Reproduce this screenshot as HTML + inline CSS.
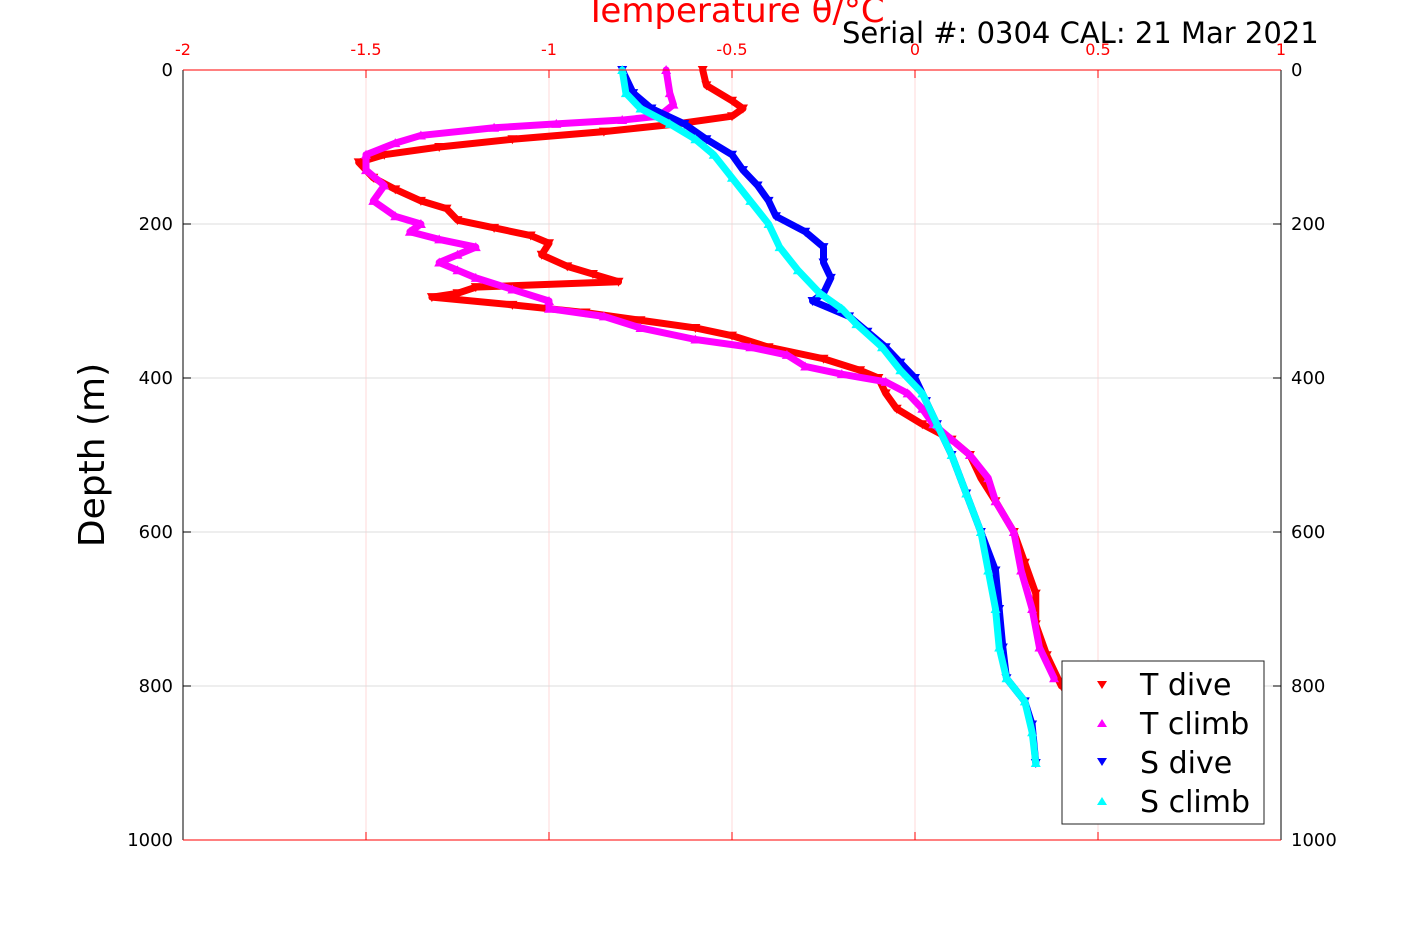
<!DOCTYPE html>
<html><head><meta charset="utf-8"><style>
body{margin:0;background:#fff}
svg text{font-family:"DejaVu Sans","Liberation Sans",sans-serif}
</style></head><body>
<svg id="chart" width="1417" height="945" viewBox="0 0 1417 945">
<g id="grid"></g>
<g id="series"></g>
<g id="axes"></g>
<text x="735" y="22" text-anchor="middle" font-size="34" fill="#ff0000">Temperature θ/°C</text>
<text x="842" y="43" font-size="29" fill="#000">Serial #: 0304  CAL: 21 Mar 2021</text>
<text transform="translate(104,455) rotate(-90)" text-anchor="middle" font-size="36" fill="#000">Depth (m)</text>
<g>
<rect x="1062" y="661" width="202" height="163" fill="#fff" stroke="#222" stroke-width="1"/>
<polygon points="1097,681 1107,681 1102,689" fill="#ff0000"/>
<text x="1140" y="695" font-size="30">T dive</text>
<polygon points="1097,727 1107,727 1102,719" fill="#ff00ff"/>
<text x="1140" y="734" font-size="30">T climb</text>
<polygon points="1097,758 1107,758 1102,766" fill="#0000ff"/>
<text x="1140" y="773" font-size="30">S dive</text>
<polygon points="1097,805 1107,805 1102,797" fill="#00ffff"/>
<text x="1140" y="812" font-size="30">S climb</text>
</g>
</svg>
<script>
const xTicks=[-2,-1.5,-1,-0.5,0,0.5,1];
const xTickLabels=["-2","-1.5","-1","-0.5","0","0.5","1"];
const yTicks=[0,200,400,600,800,1000];
const tDiveDepth=[0,20,40,50,60,70,80,90,100,110,120,140,155,170,180,195,205,215,225,240,255,265,275,282,290,295,305,315,325,335,345,360,375,390,400,420,440,460,480,500,530,560,600,640,680,720,760,800];
const tDiveVal=[-0.58,-0.57,-0.5,-0.47,-0.5,-0.65,-0.85,-1.1,-1.3,-1.45,-1.52,-1.48,-1.42,-1.35,-1.28,-1.25,-1.15,-1.05,-1.0,-1.02,-0.95,-0.88,-0.81,-1.2,-1.25,-1.32,-1.1,-0.9,-0.75,-0.6,-0.5,-0.4,-0.25,-0.15,-0.1,-0.08,-0.05,0.02,0.1,0.15,0.18,0.22,0.27,0.3,0.33,0.33,0.36,0.4];
const tClimbDepth=[0,30,45,60,65,70,75,85,95,110,130,150,170,190,200,210,220,230,240,250,260,270,285,300,310,320,335,350,360,370,385,395,405,420,440,460,480,500,530,560,600,650,700,750,790];
const tClimbVal=[-0.68,-0.67,-0.66,-0.7,-0.8,-0.98,-1.15,-1.35,-1.42,-1.5,-1.5,-1.45,-1.48,-1.42,-1.35,-1.38,-1.3,-1.2,-1.25,-1.3,-1.25,-1.2,-1.1,-1.0,-1.0,-0.85,-0.75,-0.6,-0.45,-0.35,-0.3,-0.2,-0.08,-0.02,0.02,0.05,0.1,0.15,0.2,0.22,0.27,0.29,0.32,0.34,0.38];
const sDiveDepth=[0,30,50,70,90,110,130,150,170,190,210,230,250,270,290,300,320,340,360,380,400,430,460,500,550,600,650,700,750,790,820,850,900];
const sDiveVal=[-0.8,-0.77,-0.72,-0.63,-0.57,-0.5,-0.47,-0.43,-0.4,-0.38,-0.3,-0.25,-0.25,-0.23,-0.25,-0.28,-0.18,-0.13,-0.08,-0.04,0.0,0.03,0.06,0.1,0.14,0.18,0.22,0.23,0.24,0.25,0.3,0.32,0.33];
const sClimbDepth=[0,30,50,70,90,110,140,170,200,230,260,290,310,330,360,390,420,460,500,550,600,650,700,750,790,820,860,900];
const sClimbVal=[-0.8,-0.79,-0.75,-0.67,-0.6,-0.55,-0.5,-0.45,-0.4,-0.37,-0.32,-0.26,-0.2,-0.16,-0.09,-0.04,0.02,0.06,0.1,0.14,0.18,0.2,0.22,0.23,0.25,0.3,0.32,0.33];

const X0=183,X1=1281,Y0=70,Y1=840;
const xs=v=>X0+(v+2)/3*(X1-X0);
const ys=d=>Y0+d/1000*(Y1-Y0);
const NS="http://www.w3.org/2000/svg";
function mk(t,a,p){const e=document.createElementNS(NS,t);for(const k in a)e.setAttribute(k,a[k]);p.appendChild(e);return e;}
const grid=document.getElementById('grid'),axes=document.getElementById('axes'),ser=document.getElementById('series');
xTicks.forEach((v,i)=>{
  const l=mk('line',{x1:xs(v),x2:xs(v),y1:Y0,y2:Y1,stroke:'#ffd8d8','stroke-width':1},grid);
  
  
  mk('line',{x1:xs(v),x2:xs(v),y1:Y0,y2:Y0+8,stroke:'#f00'},axes);
  mk('line',{x1:xs(v),x2:xs(v),y1:Y1,y2:Y1-8,stroke:'#f00'},axes);
  const t=mk('text',{x:xs(v),y:55,'text-anchor':'middle','font-size':16,fill:'#f00'},axes);
  t.textContent=xTickLabels[i];
  
  
});
yTicks.forEach(d=>{
  const l=mk('line',{x1:X0,x2:X1,y1:ys(d),y2:ys(d),stroke:'#dcdcdc','stroke-width':1},grid);
  
  
  mk('line',{x1:X0,x2:X0+8,y1:ys(d),y2:ys(d),stroke:'#000'},axes);
  mk('line',{x1:X1,x2:X1-8,y1:ys(d),y2:ys(d),stroke:'#000'},axes);
  const t=mk('text',{x:X0-10,y:ys(d)+6,'text-anchor':'end','font-size':18},axes);
  t.textContent=d;
  
  
  const t2=mk('text',{x:X1+10,y:ys(d)+6,'font-size':18},axes);
  t2.textContent=d;
  
  
});
mk('line',{x1:X0,x2:X0,y1:Y0,y2:Y1,stroke:'#000'},axes);
mk('line',{x1:X1,x2:X1,y1:Y0,y2:Y1,stroke:'#000'},axes);
mk('line',{x1:X0,x2:X1,y1:Y0,y2:Y0,stroke:'#f00'},axes);
mk('line',{x1:X0,x2:X1,y1:Y1,y2:Y1,stroke:'#f00'},axes);
function series(depth,val,color,down,name){
  const g=mk('g',{},ser);
  
  
  const pts=depth.map((d,i)=>xs(val[i])+','+ys(d)).join(' ');
  mk('polyline',{points:pts,fill:'none',stroke:color,'stroke-width':7,'stroke-linejoin':'round','stroke-linecap':'round'},g);
  depth.forEach((d,i)=>{
    const x=xs(val[i]),y=ys(d);
    const p=down?`${x-5},${y-4} ${x+5},${y-4} ${x},${y+5}`:`${x-5},${y+4} ${x+5},${y+4} ${x},${y-5}`;
    const m=mk('polygon',{points:p,fill:color},g);
    
    
  });
}
series(tDiveDepth,tDiveVal,'#ff0000',true,'t-dive-series');
series(tClimbDepth,tClimbVal,'#ff00ff',false,'t-climb-series');
series(sDiveDepth,sDiveVal,'#0000ff',true,'s-dive-series');
series(sClimbDepth,sClimbVal,'#00ffff',false,'s-climb-series');
</script>
</body></html>
